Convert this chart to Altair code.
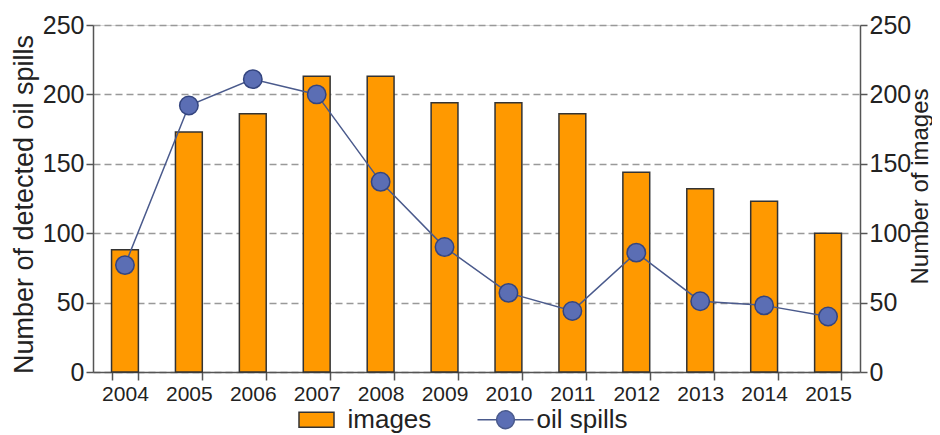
import altair as alt
import pandas as pd

years = ["2004", "2005", "2006", "2007", "2008", "2009", "2010", "2011", "2012", "2013", "2014", "2015"]
images = [88, 173, 186, 213, 213, 194, 194, 186, 144, 132, 123, 100]
oil_spills = [77, 192, 211, 200, 137, 90, 57, 44, 86, 51, 48, 40]
series_names = ["images", "oil spills"]
y_ticks = [0, 50, 100, 150, 200, 250]

BAR = "#FF9900"
DOT = "#5B6EB4"
LINE = "#4A5A8C"
AX = "#555555"
TXT = "#222222"
FONT = "Liberation Sans"

df_img = pd.DataFrame({"year": years, "value": images, "series": "images"})
df_oil = pd.DataFrame({"year": years, "value": oil_spills, "series": "oil spills"})
df_all = pd.concat([df_img, df_oil], ignore_index=True)

rect_path = "M-1,-0.43L1,-0.43L1,0.43L-1,0.43Z"
lc_path = "M-1.6,0L-0.51,0M0.51,0L1.6,0M-0.51,0A0.51,0.51,0,1,1,0.51,0A0.51,0.51,0,1,1,-0.51,0Z"

legend = alt.Legend(
    title=None, orient="none", direction="horizontal", legendX=205, legendY=376,
    symbolSize=1225, symbolStrokeWidth=1.5, labelFontSize=26, labelFont=FONT,
    labelColor=TXT, labelOffset=12.5, columnPadding=42, padding=0, symbolOpacity=1,
)
color = alt.Color("series:N", scale=alt.Scale(domain=series_names, range=[BAR, DOT]), legend=legend)

x = alt.X(
    "year:N", sort=years,
    scale=alt.Scale(paddingInner=0.58, paddingOuter=0.29),
    axis=alt.Axis(title=None, labelAngle=0, tickBand="extent", labelFontSize=21, labelFont=FONT,
                  labelColor=TXT, tickSize=8, tickColor=AX, tickWidth=1.5, domainColor=AX,
                  domainWidth=1.5, labelPadding=3, grid=False),
)

common_axis = dict(values=y_ticks, labelFontSize=25, labelFont=FONT, labelColor=TXT,
                   titleFont=FONT, titleColor=TXT, titleFontWeight="normal",
                   tickSize=7, tickColor=AX, tickWidth=1.5, domainColor=AX, domainWidth=1.5,
                   labelPadding=2)

bars = alt.Chart(df_img).mark_bar(stroke="#333333", strokeWidth=1.5).encode(
    x=x,
    y=alt.Y("value:Q", scale=alt.Scale(domain=[0, 250]),
            axis=alt.Axis(orient="right", title="Number of images", titleAngle=270,
                          titleBaseline="middle", titleAlign="center", titleX=60, titleY=161,
                          titleFontSize=24, grid=False, **common_axis)),
    color=color,
)

line = alt.Chart(df_oil).mark_line(color=LINE, strokeWidth=1.5).encode(
    x=x,
    y=alt.Y("value:Q", scale=alt.Scale(domain=[0, 250]),
            axis=alt.Axis(orient="left", title="Number of detected oil spills", titlePadding=4,
                          titleFontSize=27, titleY=179,
                          grid=True, gridDash=[7, 4], gridColor="#999999", gridWidth=1.5,
                          **common_axis)),
)

points = alt.Chart(df_oil).mark_circle(size=340, opacity=1, stroke="#34457F", strokeWidth=1.5).encode(
    x=x,
    y=alt.Y("value:Q", scale=alt.Scale(domain=[0, 250]), axis=None),
    color=color,
)

# invisible layer that only supplies legend symbol shapes and strokes
legend_keys = alt.Chart(df_all).mark_point(filled=True, opacity=0).encode(
    x=x,
    y=alt.Y("value:Q", scale=alt.Scale(domain=[0, 250]), axis=None),
    color=color,
    shape=alt.Shape("series:N", scale=alt.Scale(domain=series_names, range=[rect_path, lc_path]), legend=legend),
    stroke=alt.Stroke("series:N", scale=alt.Scale(domain=series_names, range=["#333333", LINE]), legend=legend),
)

chart = alt.layer(bars, line, points, legend_keys).resolve_scale(y="independent").properties(
    width=767, height=347,
    autosize=alt.AutoSizeParams(type="none"),
    padding={"left": 85, "top": 17, "right": 72, "bottom": 63},
).configure_view(stroke=None).configure(font=FONT)

chart.save("out.html", embed_options={"renderer": "svg", "actions": False})
